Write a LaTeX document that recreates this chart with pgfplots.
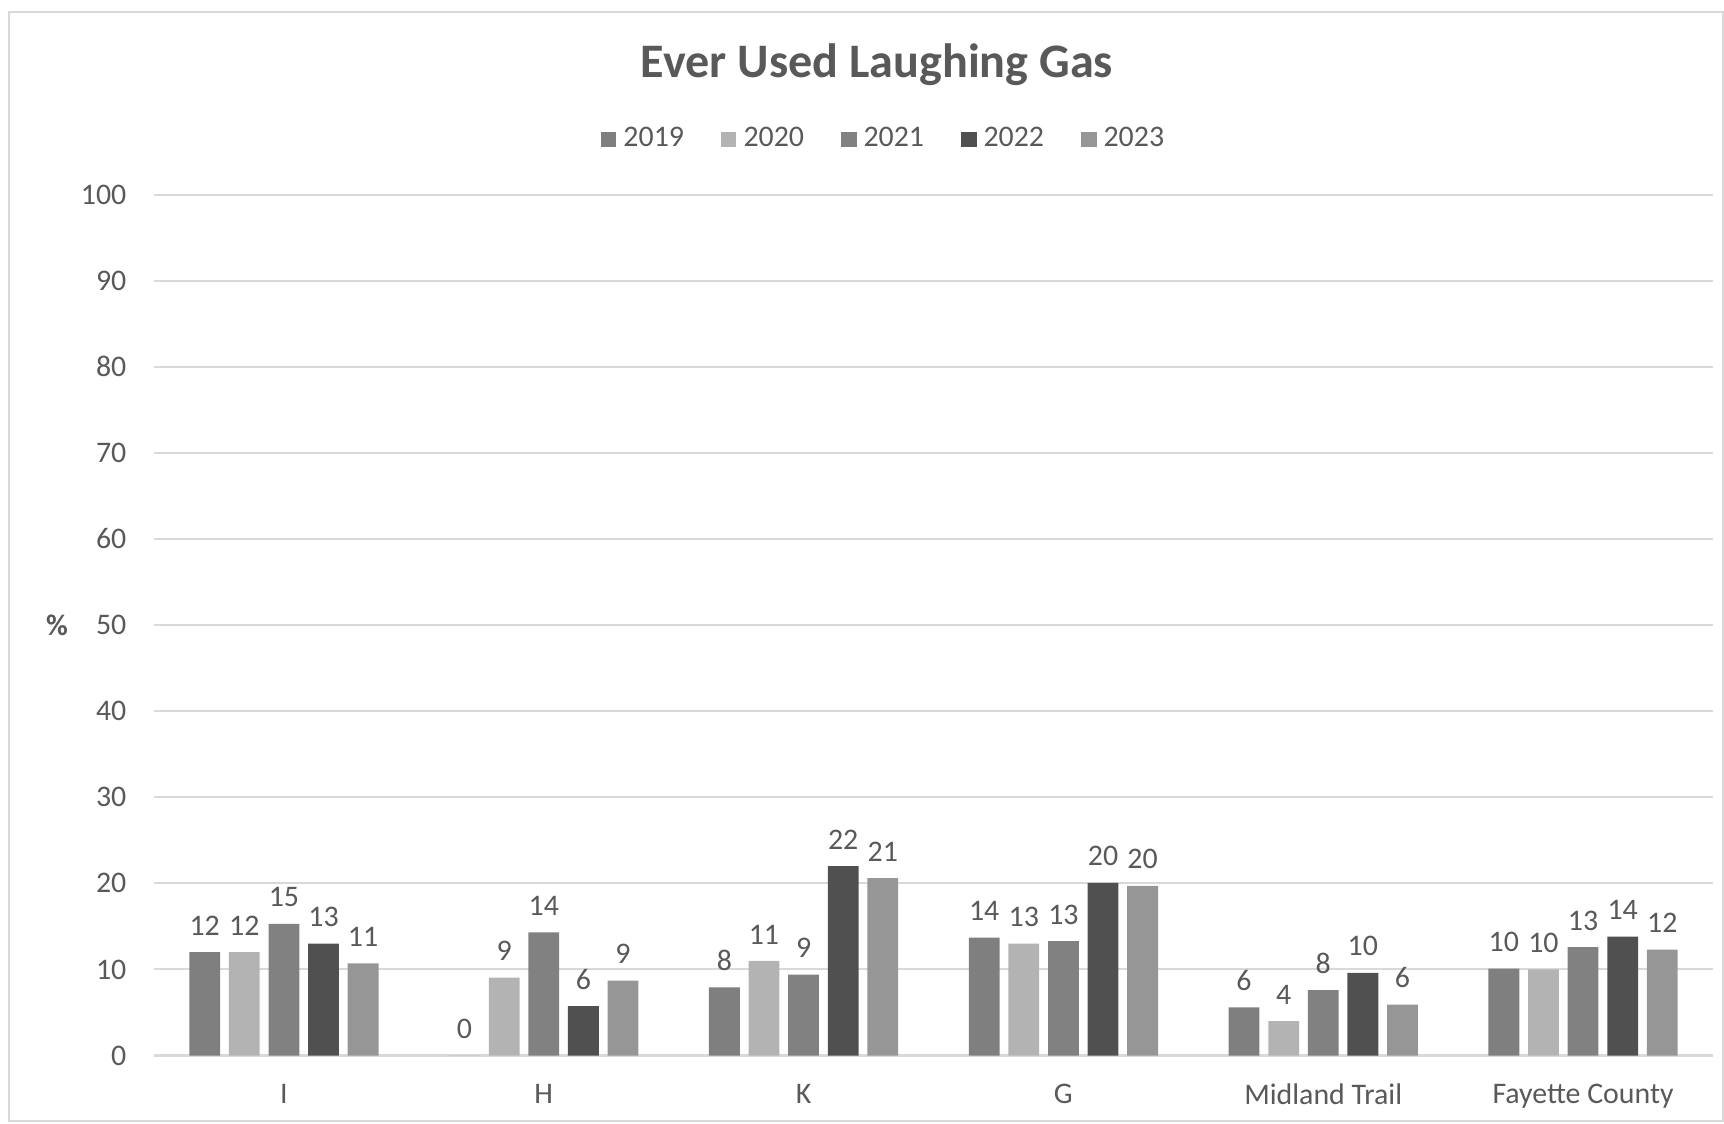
\documentclass[border=0pt]{standalone}
\usepackage{pgfplots}
\pgfplotsset{compat=1.18}
\usepackage{fontspec}
\setmainfont{Carlito}
\definecolor{txt}{HTML}{595959}
\definecolor{gridc}{HTML}{D9D9D9}
\definecolor{cA}{HTML}{7F7F7F}
\definecolor{cB}{HTML}{B3B3B3}
\definecolor{cC}{HTML}{818181}
\definecolor{cD}{HTML}{505050}
\definecolor{cE}{HTML}{969696}
\begin{document}
\begin{tikzpicture}
\useasboundingbox (0,0) rectangle (17.24,11.23);
\draw[gridc, line width=0.6pt] (0.09,0.02) rectangle (17.23,11.11);
\node[font=\fontsize{13.7}{16}\selectfont\bfseries, text=txt] at (8.77,10.58) {Ever Used Laughing Gas};
\begin{axis}[
  at={(1.54cm,0.675cm)}, anchor=south west,
  scale only axis, width=15.59cm, height=8.609cm,
  ybar=0.088cm, bar width=0.308cm,
  xmin=-0.5, xmax=5.5, ymin=0, ymax=100,
  xtick={0,1,2,3,4,5},
  xticklabels={I,H,K,G,Midland Trail,Fayette County},
  ytick={0,10,...,100},
  /pgf/number format/assume math mode=true,
  tick style={draw=none},
  axis line style={draw=none},
  ymajorgrids, grid style={gridc, line width=0.6pt},
  extra y ticks={0}, extra y tick style={grid style={gridc,line width=1pt}, yticklabel=\empty},
  yticklabel style={inner sep=0pt, xshift=-0.27cm, font=\fontsize{8.5}{10}\selectfont, text=txt},
  xticklabel style={inner sep=0pt, yshift=-0.13cm, font=\fontsize{8.5}{10}\selectfont, text=txt},
  nodes near coords={\pgfmathprintnumber[fixed,precision=0]{\pgfplotspointmeta}},
  every node near coord/.append style={font=\fontsize{8.5}{10}\selectfont, text=txt, inner sep=0pt, yshift=0.16cm, anchor=south},
  legend columns=5,
  legend style={draw=none, fill=none, at={(0.4696,1.064)}, anchor=center, font=\fontsize{8.5}{10}\selectfont, text=txt,
    /tikz/every even column/.append style={column sep=0.3cm}},
  legend image code/.code={\fill[#1] (0cm,-0.077cm) rectangle (0.154cm,0.077cm);},
  clip=false,
]
\addplot[fill=cA, draw=none] coordinates {(0,12.0) (1,0) (2,7.9) (3,13.7) (4,5.6) (5,10.1)};
\addplot[fill=cB, draw=none] coordinates {(0,12.0) (1,9.05) (2,11.0) (3,13.0) (4,4.0) (5,10.0)};
\addplot[fill=cC, draw=none] coordinates {(0,15.3) (1,14.3) (2,9.4) (3,13.3) (4,7.6) (5,12.6)};
\addplot[fill=cD, draw=none] coordinates {(0,13.0) (1,5.75) (2,22.0) (3,20.05) (4,9.6) (5,13.8)};
\addplot[fill=cE, draw=none] coordinates {(0,10.7) (1,8.7) (2,20.6) (3,19.7) (4,5.9) (5,12.3)};
\legend{2019,2020,2021,2022,2023}
\node[font=\fontsize{8.5}{10}\selectfont\bfseries, text=txt] at (axis description cs:0,0.5) [xshift=-0.97cm] {\%};
\end{axis}
\end{tikzpicture}
\end{document}
